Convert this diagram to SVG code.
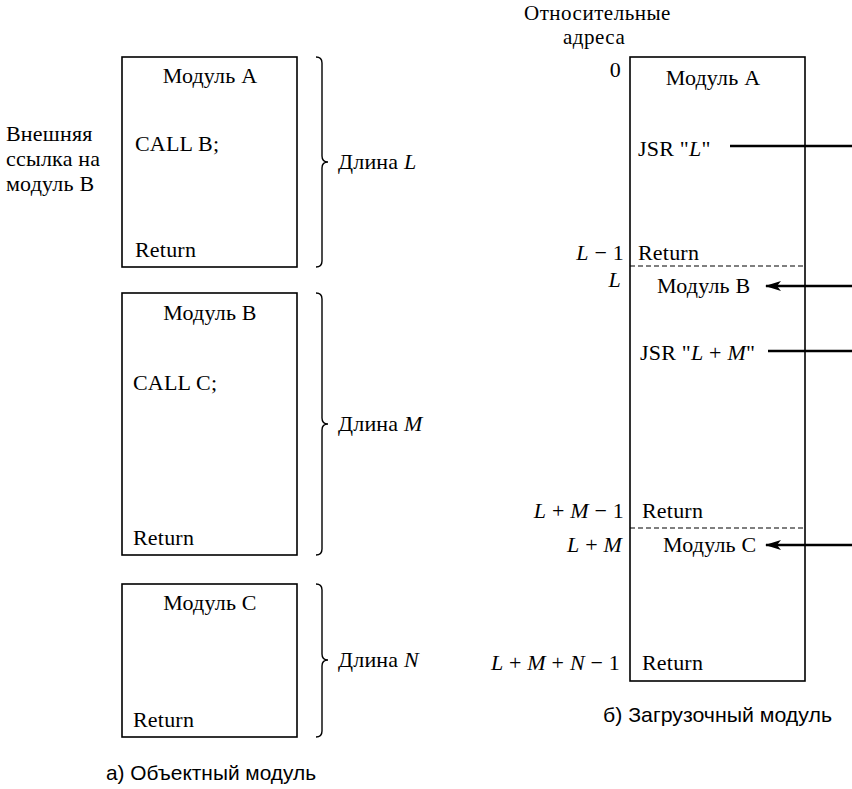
<svg xmlns="http://www.w3.org/2000/svg" width="852" height="789" viewBox="0 0 852 789">
<defs>
<style>
.t{font-size:22px;letter-spacing:0.2px;fill:#000}
.h{font-size:21px;letter-spacing:0.5px;fill:#000}
.i{font-style:italic}
.box{fill:none;stroke:#000;stroke-width:1.6}
.brace{fill:none;stroke:#000;stroke-width:1.4}
.dash{stroke:#000;stroke-width:1.2;stroke-dasharray:5 3}
.conn{stroke:#000;stroke-width:2.6;fill:none}
.cap{font-size:21px;fill:#000}
</style>
<marker id="ah" viewBox="0 0 16 10" refX="15" refY="5" markerWidth="16" markerHeight="10" markerUnits="userSpaceOnUse" orient="auto">
<path d="M0,0 L16,5 L0,10 L4,5 z" fill="#000"/>
</marker>
</defs>
<rect width="852" height="789" fill="#fff"/>

<g font-family="'Liberation Serif', 'DejaVu Serif', serif">
<g id="ext-ref-label">
<text class="t" x="6" y="141">Внешняя</text>
<text class="t" x="6" y="166">ссылка на</text>
<text class="t" x="6" y="191">модуль B</text>
</g>

<g id="objA">
<rect class="box" x="122" y="57" width="175" height="210"/>
<text class="t" x="210" y="83" text-anchor="middle">Модуль A</text>
<text class="t" x="135" y="151">CALL B;</text>
<text class="t" x="135" y="257">Return</text>
</g>
<g id="braceA">
<path class="brace" d="M316,57 Q322,57 322,63 L322,156 Q322,162 328,162 Q322,162 322,168 L322,261 Q322,267 316,267"/>
<text class="t" x="338" y="169">Длина <tspan class="i">L</tspan></text>
</g>

<g id="objB">
<rect class="box" x="122" y="293" width="175" height="262"/>
<text class="t" x="210" y="320" text-anchor="middle">Модуль B</text>
<text class="t" x="133" y="390">CALL C;</text>
<text class="t" x="133" y="545">Return</text>
</g>
<g id="braceB">
<path class="brace" d="M316,293 Q322,293 322,299 L322,418 Q322,424 328,424 Q322,424 322,430 L322,549 Q322,555 316,555"/>
<text class="t" x="338" y="431">Длина <tspan class="i">M</tspan></text>
</g>

<g id="objC">
<rect class="box" x="122" y="584" width="175" height="153"/>
<text class="t" x="210" y="610" text-anchor="middle">Модуль C</text>
<text class="t" x="133" y="727">Return</text>
</g>
<g id="braceC">
<path class="brace" d="M316,584 Q322,584 322,590 L322,654 Q322,660 328,660 Q322,660 322,666 L322,731 Q322,737 316,737"/>
<text class="t" x="338" y="667">Длина <tspan class="i">N</tspan></text>
</g>

<g id="addr-header">
<text class="h" x="524" y="20">Относительные</text>
<text class="h" x="563" y="44">адреса</text>
</g>

<g id="addresses">
<text class="t" x="621" y="77" text-anchor="end">0</text>
<text class="t" x="624" y="260" text-anchor="end"><tspan class="i">L</tspan> − 1</text>
<text class="t" x="621" y="287" text-anchor="end"><tspan class="i">L</tspan></text>
<text class="t" x="624" y="518" text-anchor="end"><tspan class="i">L</tspan> + <tspan class="i">M</tspan> − 1</text>
<text class="t" x="622" y="552" text-anchor="end"><tspan class="i">L</tspan> + <tspan class="i">M</tspan></text>
<text class="t" x="620" y="670" text-anchor="end"><tspan class="i">L</tspan> + <tspan class="i">M</tspan> + <tspan class="i">N</tspan> − 1</text>
</g>

<g id="loadmodule">
<rect class="box" x="630" y="57" width="175" height="624"/>
<line class="dash" x1="630" y1="266" x2="805" y2="266"/>
<line class="dash" x1="630" y1="528" x2="805" y2="528"/>
</g>

<g id="segA">
<text class="t" x="713" y="85" text-anchor="middle">Модуль A</text>
<text class="t" x="638" y="156">JSR "<tspan class="i">L</tspan>"</text>
<text class="t" x="638" y="260">Return</text>
</g>
<g id="segB">
<text class="t" x="657" y="293">Модуль B</text>
<text class="t" x="640" y="360">JSR "<tspan class="i">L</tspan> + <tspan class="i">M</tspan>"</text>
<text class="t" x="642" y="518">Return</text>
</g>
<g id="segC">
<text class="t" x="663" y="552">Модуль C</text>
<text class="t" x="642" y="670">Return</text>
</g>
</g>

<g font-family="'Liberation Sans Narrow', 'Arial Narrow', 'Liberation Sans', sans-serif">
<g id="caption-a">
<text class="cap" x="106" y="780" textLength="210" lengthAdjust="spacingAndGlyphs">а) Объектный модуль</text>
</g>
<g id="caption-b">
<text class="cap" x="603" y="722" textLength="229" lengthAdjust="spacingAndGlyphs">б) Загрузочный модуль</text>
</g>
</g>

<g id="connectors">
<line class="conn" x1="730" y1="146" x2="852" y2="146"/>
<line class="conn" x1="852" y1="286" x2="766" y2="286" marker-end="url(#ah)"/>
<line class="conn" x1="768" y1="351" x2="852" y2="351"/>
<line class="conn" x1="852" y1="545" x2="766" y2="545" marker-end="url(#ah)"/>
</g>
</svg>
